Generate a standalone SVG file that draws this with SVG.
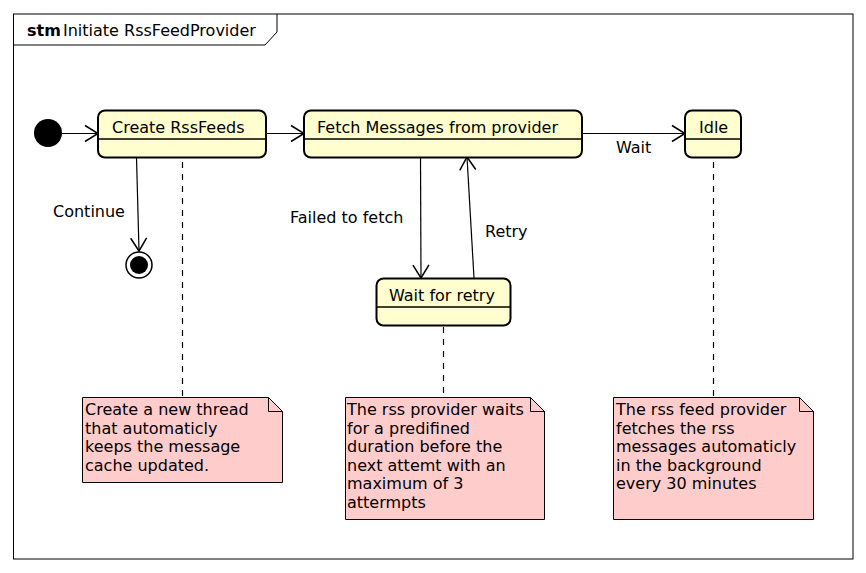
<svg xmlns="http://www.w3.org/2000/svg" width="866" height="573" viewBox="0 0 866 573">
<style>
text{font-family:"DejaVu Sans",sans-serif;font-size:16px;fill:#000}
.st{fill:#FEFECE;stroke:#000;stroke-width:2}
.sep{stroke:#000;stroke-width:1.5}
.note{fill:#FFCCCC;stroke:#000;stroke-width:1}
.dash{stroke:#000;stroke-width:1.2;stroke-dasharray:6,6;fill:none}
.edge{stroke:#000;stroke-width:1.2;fill:none;marker-end:url(#arr)}
</style>
<defs>
<marker id="arr" markerUnits="userSpaceOnUse" markerWidth="20" markerHeight="20" refX="13" refY="8" orient="auto" overflow="visible">
<path d="M0,0 L13,8 L0,16" fill="none" stroke="#000" stroke-width="1.5"/>
</marker>
</defs>
<g id="frame">
<rect x="13.5" y="14" width="839.5" height="545" fill="#fff" stroke="#000" stroke-width="1"/>
<path d="M13.5,45 L265,45 L277,32 L277,14" fill="none" stroke="#000" stroke-width="1"/>
<text x="27" y="36" font-weight="bold">stm</text>
<text x="63" y="36">Initiate RssFeedProvider</text>
</g>
<g id="connectors">
<line class="edge" x1="62" y1="133.5" x2="98" y2="133.5"/>
<line class="edge" x1="266" y1="133.5" x2="304" y2="133.5"/>
<line class="edge" x1="582" y1="133.5" x2="685" y2="133.5"/>
<line class="edge" x1="136.5" y1="157" x2="139" y2="251"/>
<line class="edge" x1="420.5" y1="157" x2="421" y2="278"/>
<line class="edge" x1="474" y1="278" x2="467" y2="157"/>
<text x="616" y="153">Wait</text>
<text x="53" y="217">Continue</text>
<text x="290" y="223">Failed to fetch</text>
<text x="485" y="237">Retry</text>
<line class="dash" x1="182.5" y1="162" x2="182.5" y2="397"/>
<line class="dash" x1="443.5" y1="327" x2="443.5" y2="397"/>
<line class="dash" x1="713.5" y1="162" x2="713.5" y2="397"/>
</g>
<g id="start">
<circle cx="48" cy="133" r="14" fill="#000"/>
</g>
<g id="end">
<circle cx="139" cy="265" r="13" fill="#fff" stroke="#000" stroke-width="1.5"/>
<circle cx="139" cy="265" r="9" fill="#000"/>
</g>
<g id="create">
<rect class="st" x="98" y="110.5" width="168" height="47" rx="7"/>
<line class="sep" x1="98" y1="139" x2="266" y2="139"/>
<text x="112" y="133">Create RssFeeds</text>
</g>
<g id="fetch">
<rect class="st" x="304" y="110.5" width="278" height="47" rx="7"/>
<line class="sep" x1="304" y1="139" x2="582" y2="139"/>
<text x="317" y="133">Fetch Messages from provider</text>
</g>
<g id="idle">
<rect class="st" x="685" y="110.5" width="56" height="47" rx="7"/>
<line class="sep" x1="685" y1="139" x2="741" y2="139"/>
<text x="699" y="133">Idle</text>
</g>
<g id="wait">
<rect class="st" x="376.5" y="278.5" width="134" height="47" rx="7"/>
<line class="sep" x1="376.5" y1="307" x2="510.5" y2="307"/>
<text x="389" y="301">Wait for retry</text>
</g>
<g id="note1">
<path class="note" d="M82.5,397.5 L268.5,397.5 L282.5,411.5 L282.5,482.5 L82.5,482.5 Z"/>
<path d="M268.5,397.5 L268.5,411.5 L282.5,411.5" fill="none" stroke="#000"/>
<text x="85" y="415">Create a new thread</text>
<text x="85" y="433.5">that automaticly</text>
<text x="85" y="452">keeps the message</text>
<text x="85" y="470.5">cache updated.</text>
</g>
<g id="note2">
<path class="note" d="M345.5,397.5 L530.5,397.5 L544.5,411.5 L544.5,519.5 L345.5,519.5 Z"/>
<path d="M530.5,397.5 L530.5,411.5 L544.5,411.5" fill="none" stroke="#000"/>
<text x="347" y="415">The rss provider waits</text>
<text x="347" y="433.5">for a predifined</text>
<text x="347" y="452">duration before the</text>
<text x="347" y="470.5">next attemt with an</text>
<text x="347" y="489">maximum of 3</text>
<text x="347" y="507.5">attermpts</text>
</g>
<g id="note3">
<path class="note" d="M613.5,397.5 L799.5,397.5 L813.5,411.5 L813.5,519.5 L613.5,519.5 Z"/>
<path d="M799.5,397.5 L799.5,411.5 L813.5,411.5" fill="none" stroke="#000"/>
<text x="616" y="415">The rss feed provider</text>
<text x="616" y="433.5">fetches the rss</text>
<text x="616" y="452">messages automaticly</text>
<text x="616" y="470.5">in the background</text>
<text x="616" y="489">every 30 minutes</text>
</g>
</svg>
